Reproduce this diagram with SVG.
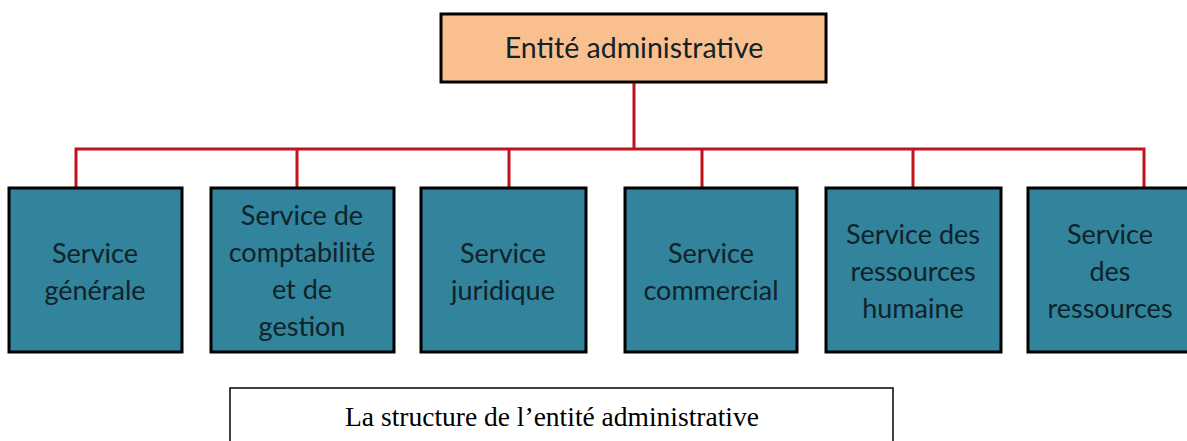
<svg xmlns="http://www.w3.org/2000/svg" width="1187" height="441" viewBox="0 0 1187 441">
<style>
.box{fill:#31849B;stroke:#000;stroke-width:3}
.top{fill:#F9BF8F;stroke:#000;stroke-width:3}
.t{font-family:Lato,"Open Sans","Liberation Sans",sans-serif;font-size:27px;fill:#10222a;text-anchor:middle}
.cap{font-family:"Liberation Serif",serif;font-size:27.5px;fill:#000;text-anchor:middle}
.c{fill:none;stroke:#C0121C;stroke-width:3}
</style>
<rect width="1187" height="441" fill="#fff"/>
<g id="connectors">
<path class="c" d="M634 83V149M76 188V149H1144V188M297 149V188M509 149V188M702 149V188M913 149V188"/>
</g>
<g id="n0"><rect class="top" x="441" y="14" width="385" height="68"/><text class="t" x="634" y="58" style="font-size:28.5px">Entité administrative</text></g>
<g id="n1"><rect class="box" x="9" y="188" width="173" height="164"/><text class="t" x="95" y="263">Service</text><text class="t" x="95" y="300">générale</text></g>
<g id="n2"><rect class="box" x="211" y="188" width="183" height="164"/><text class="t" x="302" y="225">Service de</text><text class="t" x="302" y="262">comptabilité</text><text class="t" x="302" y="299">et de</text><text class="t" x="302" y="336">gestion</text></g>
<g id="n3"><rect class="box" x="421" y="188" width="165" height="164"/><text class="t" x="503" y="263">Service</text><text class="t" x="503" y="300">juridique</text></g>
<g id="n4"><rect class="box" x="625" y="188" width="172" height="164"/><text class="t" x="711" y="263">Service</text><text class="t" x="711" y="300">commercial</text></g>
<g id="n5"><rect class="box" x="826" y="188" width="175" height="164"/><text class="t" x="913" y="244">Service des</text><text class="t" x="913" y="281">ressources</text><text class="t" x="913" y="318">humaine</text></g>
<g id="n6"><rect class="box" x="1028" y="188" width="170" height="164"/><text class="t" x="1110" y="244">Service</text><text class="t" x="1110" y="281">des</text><text class="t" x="1110" y="318">ressources</text></g>
<g id="caption"><rect x="230" y="388" width="663" height="60" fill="#fff" stroke="#000" stroke-width="1.5"/><text class="cap" x="552" y="426">La structure de l’entité administrative</text></g>
</svg>
